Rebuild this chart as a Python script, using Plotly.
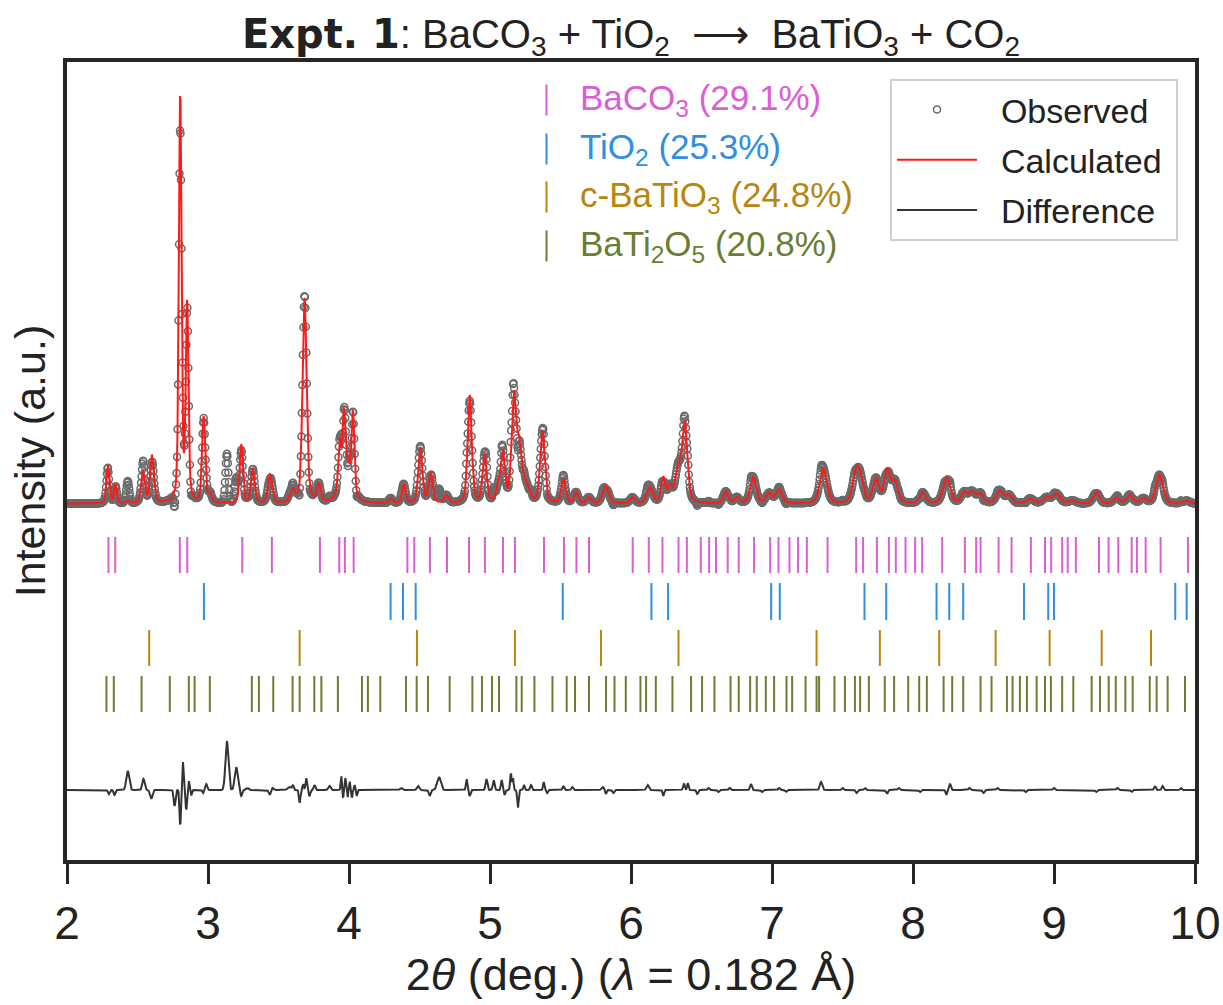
import numpy as np
import plotly.graph_objects as go

# ---------------- data ----------------
# calculated-profile reflections: position (deg 2theta), peak height (a.u.), FWHM (deg)
calc_pos = [2.290, 2.344, 2.430, 2.538, 2.602, 2.803, 2.852, 2.969, 3.013, 3.236, 3.318, 3.440,
            3.600, 3.685, 3.785, 3.933, 3.964, 3.980, 4.028, 4.295, 4.388, 4.506, 4.580, 4.690,
            4.856, 4.962, 5.060, 5.092, 5.168, 5.205, 5.250, 5.372, 5.520, 5.610, 5.700, 5.820,
            6.010, 6.133, 6.228, 6.276, 6.335, 6.382, 6.672, 6.750, 6.866, 6.980, 7.050, 7.363,
            7.595, 7.628, 7.737, 7.817, 7.871, 8.068, 8.238, 8.363, 8.420, 8.477, 8.616, 8.682,
            8.830, 8.947, 9.018, 9.130, 9.300, 9.444, 9.538, 9.633, 9.747, 9.940]
calc_height = [38, 19, 3, 32, 48, 410, 198, 86, 9, 59, 34, 29,
               12, 206, 18, 43, 57, 40, 75, 5, 19, 56, 30, 8,
               108, 48, 14, 47, 104, 52, 18, 72, 24, 11, 6, 17,
               6, 16, 25, 15, 34, 78, 12, 6, 26, 10, 14, 35,
               30, 19, 24, 32, 21, 11, 26, 11, 11, 10, 13, 8,
               5, 6, 10, 3, 12, 6, 9, 5, 29, 3]
calc_fwhm = [0.024, 0.022, 0.030, 0.030, 0.030, 0.022, 0.022, 0.026, 0.030, 0.026, 0.030, 0.034,
             0.040, 0.034, 0.030, 0.022, 0.022, 0.090, 0.022, 0.030, 0.030, 0.034, 0.034, 0.035,
             0.034, 0.034, 0.040, 0.034, 0.036, 0.040, 0.060, 0.038, 0.035, 0.035, 0.040, 0.050,
             0.040, 0.050, 0.035, 0.035, 0.050, 0.042, 0.040, 0.040, 0.050, 0.050, 0.050, 0.058,
             0.055, 0.050, 0.050, 0.050, 0.050, 0.050, 0.058, 0.050, 0.050, 0.050, 0.058, 0.050,
             0.060, 0.060, 0.060, 0.060, 0.050, 0.050, 0.050, 0.050, 0.058, 0.060]

# misfit features (observed minus calculated): position, amplitude, FWHM
diff_pos = [2.297, 2.337, 2.431, 2.543, 2.597, 2.763, 2.803, 2.822, 2.846, 2.864, 2.880, 2.965,
            2.988, 3.134, 3.200, 3.236, 3.280, 3.437, 3.460, 3.578, 3.602, 3.650, 3.675, 3.697,
            3.720, 3.756, 3.862, 3.945, 3.958, 3.974, 3.990, 4.004, 4.021, 4.040, 4.055, 4.370,
            4.490, 4.572, 4.638, 4.834, 4.856, 4.975, 5.026, 5.083, 5.105, 5.148, 5.163, 5.198,
            5.241, 5.291, 5.381, 5.406, 5.520, 5.583, 5.800, 5.822, 5.875, 6.118, 6.229, 6.376,
            6.403, 6.470, 6.550, 6.620, 6.700, 6.851, 6.930, 7.050, 7.100, 7.348, 7.500, 7.600,
            7.660, 7.815, 7.900, 8.050, 8.236, 8.263, 8.400, 8.500, 8.600, 8.800, 9.000, 9.300,
            9.450, 9.550, 9.716, 9.770, 9.900]
diff_amp = [-4, -5, 19, 11, -9, -16, -36, 28, -20, 9, -6, -3,
            6, 49, 23, -6, 2, -5, 2, 3, 5, -13, 6, 12,
            -6, 5, 4, 14, -8, 12, -8, 9, -8, 5, -6, 2,
            4, -6, 13, 11, -6, 11, 10, 10, -5, 17, 12, -18,
            5, 5, 8, -3, 4, 3, 3, -4, -3, 5, -6, 6,
            7, -4, 2, -2, 2, 6, -2, 2, -2, 8, 2, -3,
            2, -4, 2, -2, -5, 6, 2, -3, 2, -2, 2, -2,
            2, -2, 4, 4, 2]
diff_fwhm = [0.015, 0.015, 0.025, 0.020, 0.020, 0.015, 0.012, 0.012, 0.012, 0.012, 0.012, 0.012,
             0.015, 0.025, 0.025, 0.015, 0.020, 0.015, 0.015, 0.030, 0.012, 0.012, 0.012, 0.012,
             0.012, 0.015, 0.020, 0.010, 0.008, 0.010, 0.008, 0.010, 0.008, 0.010, 0.010, 0.020,
             0.020, 0.015, 0.030, 0.012, 0.012, 0.015, 0.015, 0.012, 0.012, 0.012, 0.010, 0.012,
             0.012, 0.015, 0.012, 0.012, 0.015, 0.015, 0.020, 0.012, 0.015, 0.020, 0.012, 0.015,
             0.012, 0.015, 0.015, 0.015, 0.015, 0.015, 0.015, 0.015, 0.015, 0.020, 0.015, 0.015,
             0.015, 0.015, 0.015, 0.015, 0.012, 0.015, 0.015, 0.015, 0.015, 0.015, 0.015, 0.015,
             0.015, 0.015, 0.015, 0.015, 0.015]

# reflection tick positions of each phase (deg 2theta)
baco3_ticks = [2.294, 2.342, 2.800, 2.853, 3.243, 3.453, 3.794, 3.931, 3.971, 4.033, 4.414, 4.463,
               4.574, 4.695, 4.851, 4.964, 5.092, 5.177, 5.383, 5.525, 5.613, 5.702, 6.012, 6.126,
               6.223, 6.337, 6.396, 6.495, 6.554, 6.603, 6.686, 6.764, 6.873, 6.987, 7.046, 7.124,
               7.185, 7.247, 7.394, 7.597, 7.646, 7.744, 7.829, 7.878, 7.947, 8.015, 8.065, 8.207,
               8.368, 8.448, 8.479, 8.607, 8.699, 8.836, 8.936, 8.980, 9.058, 9.097, 9.155, 9.319,
               9.387, 9.456, 9.551, 9.588, 9.650, 9.756, 9.950]
tio2_ticks = [2.971, 4.295, 4.383, 4.473, 5.516, 6.145, 6.263, 6.994, 7.055, 7.656, 7.810, 8.167,
              8.257, 8.356, 8.787, 8.959, 9.000, 9.860, 9.941]
batio3_ticks = [2.583, 3.650, 4.482, 5.177, 5.787, 6.337, 7.316, 7.765, 8.186, 8.586, 8.969,
                9.338, 9.688]
bati2o5_ticks = [2.280, 2.332, 2.529, 2.729, 2.864, 2.905, 3.013, 3.311, 3.361, 3.463, 3.600,
                 3.650, 3.754, 3.804, 3.921, 4.092, 4.134, 4.222, 4.404, 4.480, 4.560, 4.714,
                 4.875, 4.943, 5.014, 5.064, 5.187, 5.225, 5.315, 5.443, 5.544, 5.603, 5.702,
                 5.823, 5.883, 5.963, 6.067, 6.107, 6.176, 6.294, 6.426, 6.504, 6.592, 6.706,
                 6.764, 6.845, 6.892, 6.956, 7.015, 7.103, 7.143, 7.238, 7.316, 7.334, 7.443,
                 7.517, 7.588, 7.625, 7.687, 7.800, 7.866, 7.966, 8.044, 8.098, 8.217, 8.278,
                 8.356, 8.479, 8.557, 8.666, 8.706, 8.758, 8.808, 8.877, 8.936, 8.978, 9.058,
                 9.137, 9.267, 9.326, 9.388, 9.438, 9.506, 9.558, 9.679, 9.728, 9.806, 9.929]

phase_labels = ["BaCO<sub>3</sub> (29.1%)", "TiO<sub>2</sub> (25.3%)",
                "c-BaTiO<sub>3</sub> (24.8%)", "BaTi<sub>2</sub>O<sub>5</sub> (20.8%)"]
phase_colors = ["#DA5FD3", "#2E8FE3", "#B8860B", "#6B7D32"]

x_ticks = [2, 3, 4, 5, 6, 7, 8, 9, 10]

# ---------------- profile construction ----------------
step = 0.0035
tt = np.arange(2.0, 10.0 + step / 2, step)


def pv(x, x0, h, w, eta):
    d = 2.0 * (x - x0) / w
    return h * (eta / (1.0 + d * d) + (1.0 - eta) * np.exp(-np.log(2.0) * d * d))


calc = np.zeros_like(tt)
for p, h, w in zip(calc_pos, calc_height, calc_fwhm):
    calc += pv(tt, p, h, w, 0.4)
misfit = np.zeros_like(tt)
for p, a, w in zip(diff_pos, diff_amp, diff_fwhm):
    misfit += pv(tt, p, a, w, 0.0)
obs = calc + misfit

diff_offset = -286
tick_rows = [(-33, -69), (-79, -116), (-126, -162), (-172, -208)]
tick_sets = [baco3_ticks, tio2_ticks, batio3_ticks, bati2o5_ticks]

FONT = "Liberation Sans, Arial, sans-serif"
L, R, T, B = 67, 28, 62, 145
PW, PH = 1223 - L - R, 1005 - T - B


def px_x(p):
    return (p - L) / PW


def px_y(p):
    return (1005 - B - p) / PH


fig = go.Figure()

# phase reflection ticks
for ticks, (y0, y1), col in zip(tick_sets, tick_rows, phase_colors):
    xs, ys = [], []
    for t in ticks:
        xs += [t, t, None]
        ys += [y0, y1, None]
    fig.add_trace(go.Scatter(x=xs, y=ys, mode="lines", line=dict(color=col, width=2),
                             showlegend=False, hoverinfo="skip"))

fig.add_trace(go.Scatter(x=tt, y=obs, mode="markers", name="&nbsp;&nbsp;Observed&nbsp;",
                         legendgroup="a",
                         marker=dict(symbol="circle-open", size=7, color="#6b6b6b",
                                     line=dict(width=1.5, color="#6b6b6b"))))
fig.add_trace(go.Scatter(x=tt, y=calc, mode="lines", name="&nbsp;&nbsp;Calculated&nbsp;",
                         legendgroup="b", line=dict(color="#FF1A1A", width=2)))
fig.add_trace(go.Scatter(x=tt, y=obs - calc + diff_offset, mode="lines",
                         name="&nbsp;&nbsp;Difference&nbsp;",
                         legendgroup="c", line=dict(color="#333333", width=2)))

# phase labels (legend of reflection ticks)
row_y = [100, 149, 197, 246]
annotations = []
shapes = []
for lab, col, yp in zip(phase_labels, phase_colors, row_y):
    shapes.append(dict(type="line", xref="paper", yref="paper",
                       x0=px_x(546.5), x1=px_x(546.5),
                       y0=px_y(yp + 15.5), y1=px_y(yp - 15.5),
                       line=dict(color=col, width=2)))
    annotations.append(dict(xref="paper", yref="paper", x=px_x(578), y=px_y(yp),
                            xanchor="left", yanchor="middle", showarrow=False,
                            text=lab, font=dict(size=35, color=col, family=FONT)))

title_text = ('<span style="font-family:DejaVu Sans"><b>Expt. 1</b></span>: BaCO<sub>3</sub> + '
              'TiO<sub>2</sub>  \u27f6  BaTiO<sub>3</sub> + CO<sub>2</sub>')

fig.update_layout(
    width=1223, height=1005,
    margin=dict(l=L, r=R, t=T, b=B, autoexpand=False),
    paper_bgcolor="white", plot_bgcolor="white",
    font=dict(family=FONT, color="#222222"),
    title=dict(text=title_text, x=(L + 1223 - R) / 2 / 1223, xanchor="center",
               y=1 - 34 / 1005, yanchor="middle", yref="container",
               font=dict(size=40, color="#222222", family=FONT)),
    xaxis=dict(range=[2, 10], tickvals=x_ticks, ticktext=[str(v) for v in x_ticks],
               ticks="outside", ticklen=20, tickwidth=3, tickcolor="#262626",
               tickfont=dict(size=46, family=FONT, color="#222222"),
               showline=True, mirror=True, linewidth=3.5, linecolor="#262626",
               showgrid=False, zeroline=False, automargin=False,
               title=dict(text="2<i>\u03b8</i> (deg.) (<i>\u03bb</i> = 0.182 \u00c5)",
                          font=dict(size=45, family=FONT, color="#222222"), standoff=8)),
    yaxis=dict(range=[-356, 442], showticklabels=False, ticks="",
               showline=True, mirror=True, linewidth=3.5, linecolor="#262626",
               showgrid=False, zeroline=False, automargin=False,
               title=dict(text="Intensity (a.u.)", font=dict(size=43, family=FONT,
                                                            color="#222222"), standoff=5)),
    legend=dict(x=px_x(1178), xanchor="right", y=px_y(79), yanchor="top",
                bgcolor="white", bordercolor="#cfcfcf", borderwidth=2,
                font=dict(size=34, family=FONT, color="#222222"),
                traceorder="grouped", tracegroupgap=3, itemwidth=80),
    annotations=annotations,
    shapes=shapes,
)

fig.write_html("out.html")
